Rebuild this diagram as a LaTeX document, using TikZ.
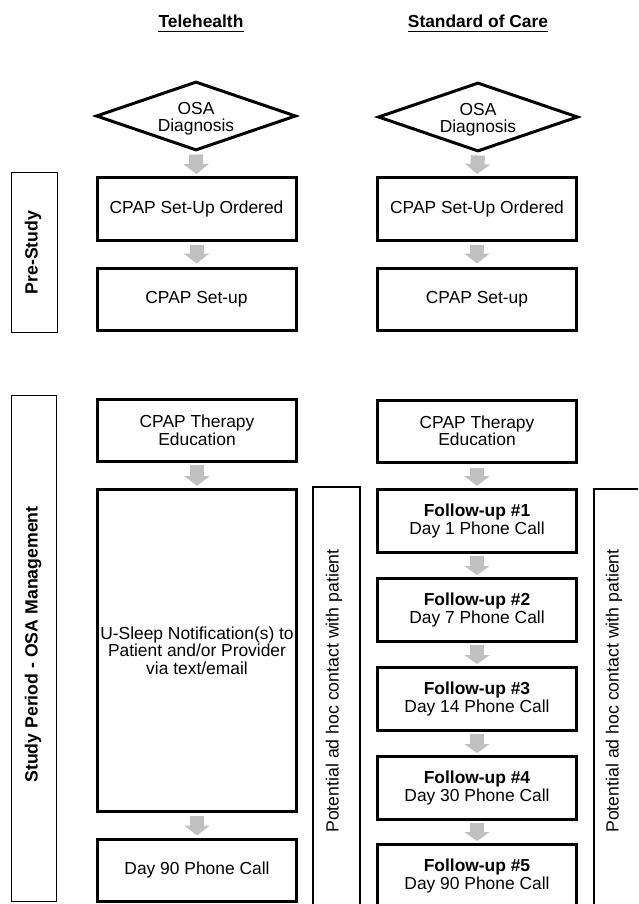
\documentclass[tikz,border=0pt]{standalone}
\usepackage{fontspec}
\setmainfont{Liberation Sans}
\usetikzlibrary{shapes.geometric,arrows.meta}
\definecolor{arrowgray}{RGB}{192,192,192}
\begin{document}
\begin{tikzpicture}[x=1pt,y=-1pt,
  txt/.style={font=\fontsize{17.4}{17.5}\selectfont},
  box/.style={txt, draw, line width=3pt, minimum width=199pt, minimum height=62pt, align=center, inner sep=2pt},
  fbox/.style={box, minimum height=63pt},
  side/.style={draw, line width=1.4pt, rotate=90, inner sep=0pt},
  sidetext/.style={rotate=90, inner sep=0pt, font=\bfseries\fontsize{17.7}{18}\selectfont},
  diam/.style={diamond, draw, line width=3pt, shape aspect=2.8, minimum width=200pt, minimum height=69pt, inner sep=0pt},
  garrow/.style={draw=arrowgray, line width=14pt, -{Triangle[width=25pt,length=10pt]}, shorten <=3pt, shorten >=3pt},
  hdr/.style={font=\bfseries\fontsize{17.4}{17.5}\selectfont, inner sep=0pt, anchor=base},
  thin/.style={draw, line width=1.4pt},
  vtext/.style={rotate=90, inner sep=0pt, font=\fontsize{17.7}{18}\selectfont}
]
\useasboundingbox (0,0) rectangle (638,904);
\clip (0,0) rectangle (638,904);

% headers
\node[hdr] (h1) at (201,28) {Telehealth};
\node[hdr] (h2) at (478,28) {Standard of Care};
\draw[line width=1.3pt] ([yshift=-3.5pt]h1.base west) -- ([yshift=-3.5pt]h1.base east);
\draw[line width=1.3pt] ([yshift=-3.5pt]h2.base west) -- ([yshift=-3.5pt]h2.base east);

% side labels
\node[side, minimum width=159.6pt, minimum height=45.6pt] (pre) at (34.5,252.5) {};
\node[sidetext] (pret) at (33,252.5) {Pre-Study};
\node[side, minimum width=505.6pt, minimum height=45pt] (study) at (34,648.5) {};
\node[sidetext] (studyt) at (33,644.5) {Study Period - OSA Management};

% potential ad hoc boxes
\draw[thin] (313,487) rectangle (360,960);
\draw[thin] (594,489) rectangle (700,960);
\node[vtext] (pot1) at (334,691) {Potential ad hoc contact with patient};
\node[vtext] (pot2) at (614,691) {Potential ad hoc contact with patient};

% Telehealth column
\node[diam] (d1) at (196,116) {};
\node[txt, align=center, inner sep=0pt] (d1t) at (196,118.5) {OSA\\Diagnosis};
\node[box] (o1) at (196.5,209) {CPAP Set-Up Ordered};
\node[box] (s1) at (196.5,299) {CPAP Set-up};
\node[box] (e1) at (197,430.5) {CPAP Therapy\\Education};
\node[box, minimum height=322pt] (u1) at (197,650.5) {U-Sleep Notification(s) to\\Patient and/or Provider\\via text/email};
\node[box] (n1) at (197,870) {Day 90 Phone Call};

\draw[garrow, shorten <=2.5pt, shorten >=2.5pt] (d1.south) -- (o1.north);
\draw[garrow] (o1.south) -- (s1.north);
\draw[garrow, shorten <=2pt, shorten >=2pt] (e1.south) -- (u1.north);
\draw[garrow, shorten <=3pt, shorten >=2pt] (u1.south) -- (n1.north);

% Standard of care column
\node[diam] (d2) at (478,117) {};
\node[txt, align=center, inner sep=0pt] (d2t) at (478,119.5) {OSA\\Diagnosis};
\node[box] (o2) at (477,209) {CPAP Set-Up Ordered};
\node[box] (s2) at (477,299) {CPAP Set-up};
\node[box] (e2) at (477,431) {CPAP Therapy\\Education};
\node[fbox] (f1) at (477,521) {\textbf{Follow-up \#1}\\Day 1 Phone Call};
\node[fbox] (f2) at (477,610) {\textbf{Follow-up \#2}\\Day 7 Phone Call};
\node[fbox] (f3) at (477,699) {\textbf{Follow-up \#3}\\Day 14 Phone Call};
\node[fbox] (f4) at (477,788) {\textbf{Follow-up \#4}\\Day 30 Phone Call};
\node[fbox] (f5) at (477,876) {\textbf{Follow-up \#5}\\Day 90 Phone Call};

\draw[garrow, shorten <=2.5pt, shorten >=2.5pt] (d2.south) -- (o2.north);
\draw[garrow] (o2.south) -- (s2.north);
\draw[garrow, shorten <=4pt, shorten >=2pt] (e2.south) -- (f1.north);
\draw[garrow, -{Triangle[width=25pt,length=9pt]}, shorten <=2pt, shorten >=2pt] (f1.south) -- (f2.north);
\draw[garrow, -{Triangle[width=25pt,length=9pt]}, shorten <=2pt, shorten >=2pt] (f2.south) -- (f3.north);
\draw[garrow, -{Triangle[width=25pt,length=9pt]}, shorten <=2pt, shorten >=2pt] (f3.south) -- (f4.north);
\draw[garrow, -{Triangle[width=25pt,length=9pt]}, shorten <=2pt, shorten >=2pt] (f4.south) -- (f5.north);
\end{tikzpicture}
\end{document}
